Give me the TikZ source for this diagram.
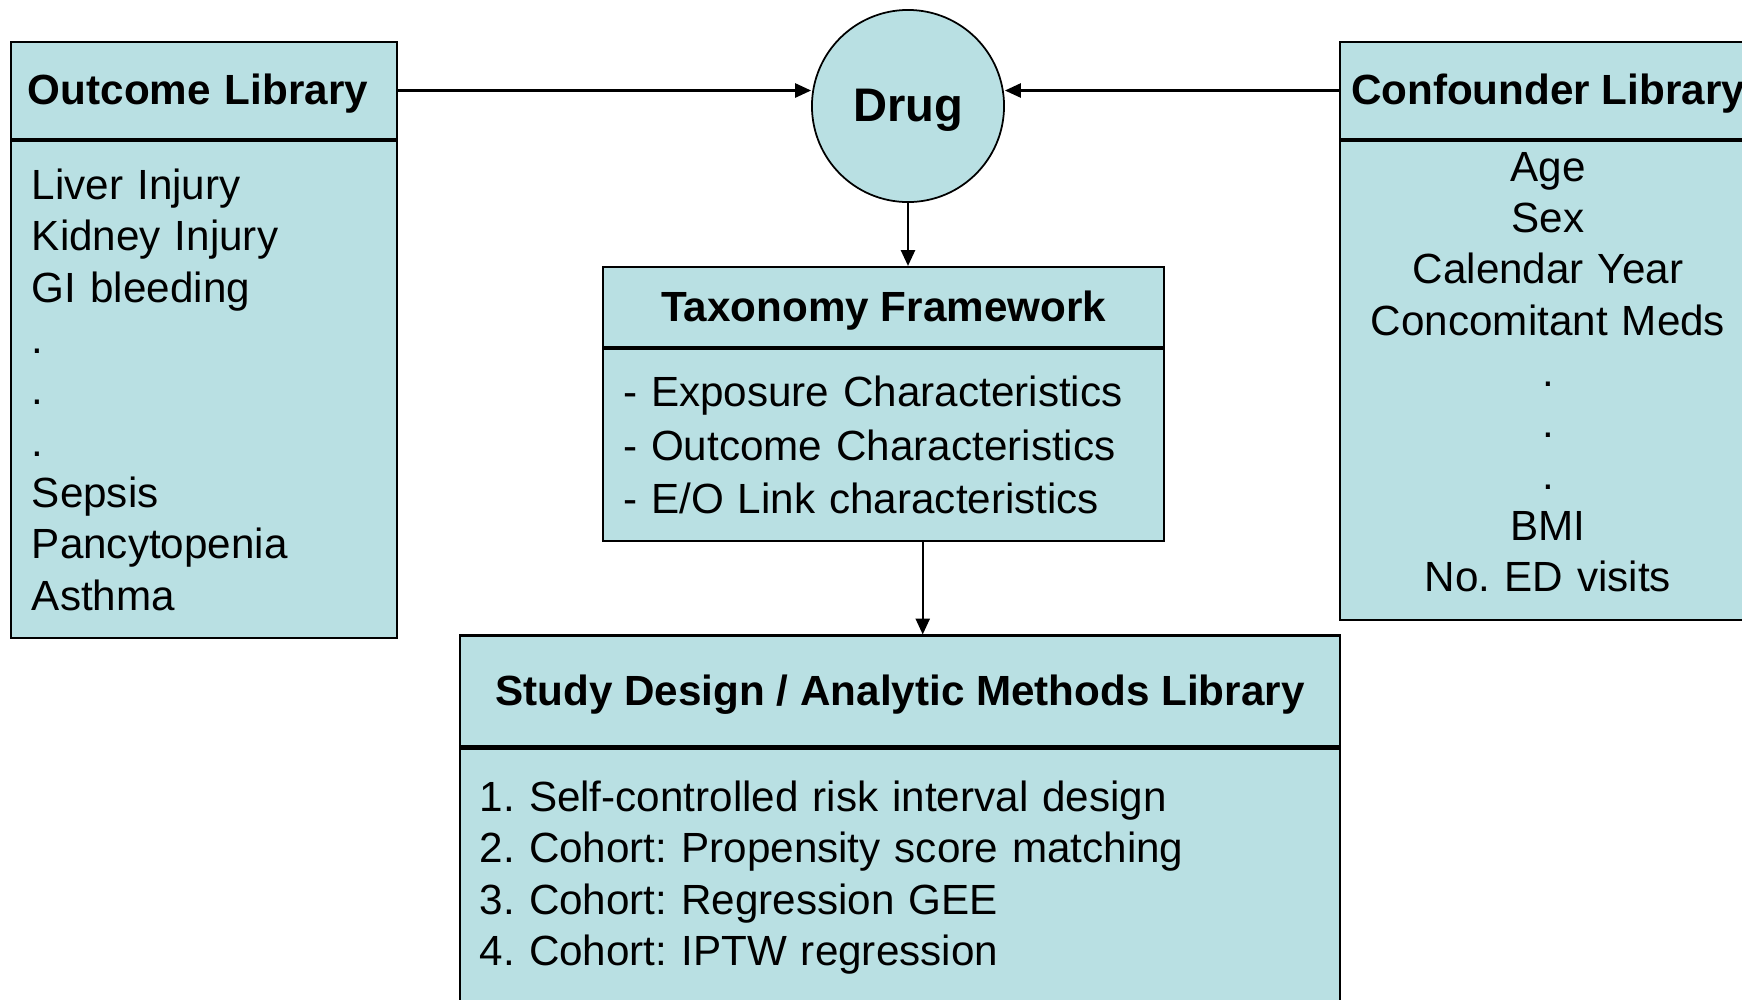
\documentclass[tikz,border=0pt]{standalone}
\usepackage{fontspec}
\setmainfont{Liberation Sans}
\frenchspacing
\definecolor{libcyan}{HTML}{B9E0E3}
\usepackage{tikz}
\usetikzlibrary{arrows.meta, positioning}

\begin{document}
\begin{tikzpicture}[x=0.01cm, y=-0.01cm,
    box/.style={draw=black, fill=libcyan, line width=0.6pt, inner sep=0pt,
      font={\fontsize{12pt}{14.6pt}\selectfont}},
    headbox/.style={box, font={\fontsize{12pt}{14.6pt}\selectfont\bfseries},
      text height=0.82em, text depth=0pt},
    link/.style={line width=0.6pt, -{Triangle[length=4.5pt, width=4pt]}}]
    \clip (0,0) rectangle (1742,999);
    % Outcome library: x = 11 to 397
    \node[headbox, minimum width=3.86cm, minimum height=0.97cm,
      text width=3.52cm, inner xsep=0.17cm, align=left]
      (outHead) at (204,90.5) {Outcome Library};
    \node[box, below=0pt of outHead, minimum width=3.86cm, minimum height=4.97cm,
      text width=3.44cm, inner xsep=0.21cm, align=left]
      (outBody) {Liver Injury\\Kidney Injury\\GI bleeding\\.\\.\\.\\Sepsis\\Pancytopenia\\Asthma};
    % Drug
    \node[draw=black, fill=libcyan, line width=0.5pt, circle, minimum size=1.92cm,
      inner sep=0pt, font={\fontsize{13.4pt}{16pt}\selectfont\bfseries},
      text height=0.9em, text depth=0pt]
      (drug) at (908,106) {Drug};
    % Confounder library: x = 1340 to 1756
    \node[headbox, minimum width=4.16cm, minimum height=0.97cm]
      (confHead) at (1548,90.5) {Confounder Library};
    \node[box, below=0pt of confHead, minimum width=4.16cm, minimum height=4.79cm,
      text width=4.0cm, inner xsep=0.08cm, align=center]
      (confBody) {Age\\Sex\\Calendar Year\\Concomitant Meds\\.\\.\\.\\BMI\\No. ED visits\rule[-5pt]{0pt}{0pt}};
    % Taxonomy framework: x = 603 to 1164
    \node[headbox, minimum width=5.61cm, minimum height=0.80cm]
      (taxHead) at (883.7,307) {Taxonomy Framework};
    \node[box, below=0pt of taxHead, minimum width=5.61cm, minimum height=1.92cm,
      text width=5.21cm, inner xsep=0.20cm, align=left,
      font={\fontsize{12pt}{15.2pt}\selectfont}]
      (taxBody) {- Exposure Characteristics\\- Outcome Characteristics\\- E/O Link characteristics};
    % Study design library: x = 460 to 1340
    \node[headbox, minimum width=8.80cm, minimum height=1.11cm]
      (studyHead) at (900,691) {Study Design / Analytic Methods Library};
    \node[box, below=0pt of studyHead, minimum width=8.80cm, minimum height=2.58cm,
      text width=8.40cm, inner xsep=0.20cm, align=left]
      (studyBody) {1. Self-controlled risk interval design\\2. Cohort: Propensity score matching\\3. Cohort: Regression GEE\\4. Cohort: IPTW regression};
    % Arrows
    \draw[link] (outHead.east) -- (outHead.east -| drug.west);
    \draw[link] (confHead.west) -- (confHead.west -| drug.east);
    \draw[link] (drug.south) -- (drug.south |- taxHead.north);
    \coordinate (taxOut) at ([xshift=0.39cm]taxBody.south);
    \draw[link] (taxOut) -- (taxOut |- studyHead.north);
  \end{tikzpicture}
\end{document}
